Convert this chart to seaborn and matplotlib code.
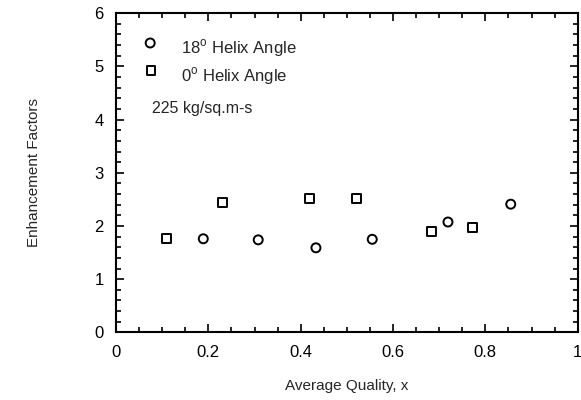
import matplotlib
matplotlib.use("Agg")
import matplotlib.pyplot as plt
import seaborn as sns
import pandas as pd
from matplotlib.ticker import MultipleLocator

helix18_x = [0.189, 0.308, 0.433, 0.555, 0.719, 0.855]
helix18_y = [1.76, 1.74, 1.59, 1.75, 2.075, 2.41]
helix0_x = [0.109, 0.231, 0.419, 0.521, 0.683, 0.772]
helix0_y = [1.76, 2.45, 2.525, 2.525, 1.89, 1.98]
series_names = ["18° Helix Angle", "0° Helix Angle"]
x_ticks = [0, 0.2, 0.4, 0.6, 0.8, 1]
x_tick_labels = ["0", "0.2", "0.4", "0.6", "0.8", "1"]
y_ticks = [0, 1, 2, 3, 4, 5, 6]

df = pd.DataFrame({
    "x": helix18_x + helix0_x,
    "y": helix18_y + helix0_y,
    "series": [series_names[0]] * len(helix18_x) + [series_names[1]] * len(helix0_x),
})

sns.set_style("ticks")
plt.rcParams["font.family"] = ["Liberation Sans", "DejaVu Sans"]

fig = plt.figure(figsize=(5.81, 4.0), dpi=100)
ax = fig.add_axes([0.1997, 0.169, 0.7946, 0.798])

sns.scatterplot(data=df, x="x", y="y", style="series", hue="series",
                markers={series_names[0]: "o", series_names[1]: "s"},
                palette={series_names[0]: "black", series_names[1]: "black"},
                s=42, facecolor="none", linewidth=1.4, ax=ax, legend=False)
for coll in ax.collections:
    coll.set_facecolor("none")
    coll.set_edgecolor("black")

ax.set_xlim(0, 1)
ax.set_ylim(0, 6)
ax.set_xticks(x_ticks)
ax.set_xticklabels(x_tick_labels)
ax.set_yticks(y_ticks)
ax.xaxis.set_minor_locator(MultipleLocator(0.05))
ax.yaxis.set_minor_locator(MultipleLocator(0.2))
ax.tick_params(which="both", direction="in", top=True, right=True, width=1.2,
               labelsize=12, colors="black")
ax.tick_params(which="major", length=6, pad=9)
ax.tick_params(which="minor", length=3.5)
for sp in ax.spines.values():
    sp.set_linewidth(1.5)
    sp.set_color("black")

ax.set_xlabel("Average Quality, x", fontsize=11, labelpad=14)
ax.set_ylabel("Enhancement Factors", fontsize=11, labelpad=38)

# legend-like annotations
ax.scatter([0.074], [5.44], marker="o", s=42, facecolor="none", edgecolor="black", linewidth=1.4)
ax.scatter([0.076], [4.92], marker="s", s=38, facecolor="none", edgecolor="black", linewidth=1.4)
ax.text(0.14, 5.34, "18$^{\\mathregular{o}}$ Helix Angle", fontsize=12, va="center")
ax.text(0.14, 4.82, "0$^{\\mathregular{o}}$ Helix Angle", fontsize=12, va="center")
ax.text(0.077, 4.21, "225 kg/sq.m-s", fontsize=11.5, va="center")

fig.savefig("out.png", dpi=100)
